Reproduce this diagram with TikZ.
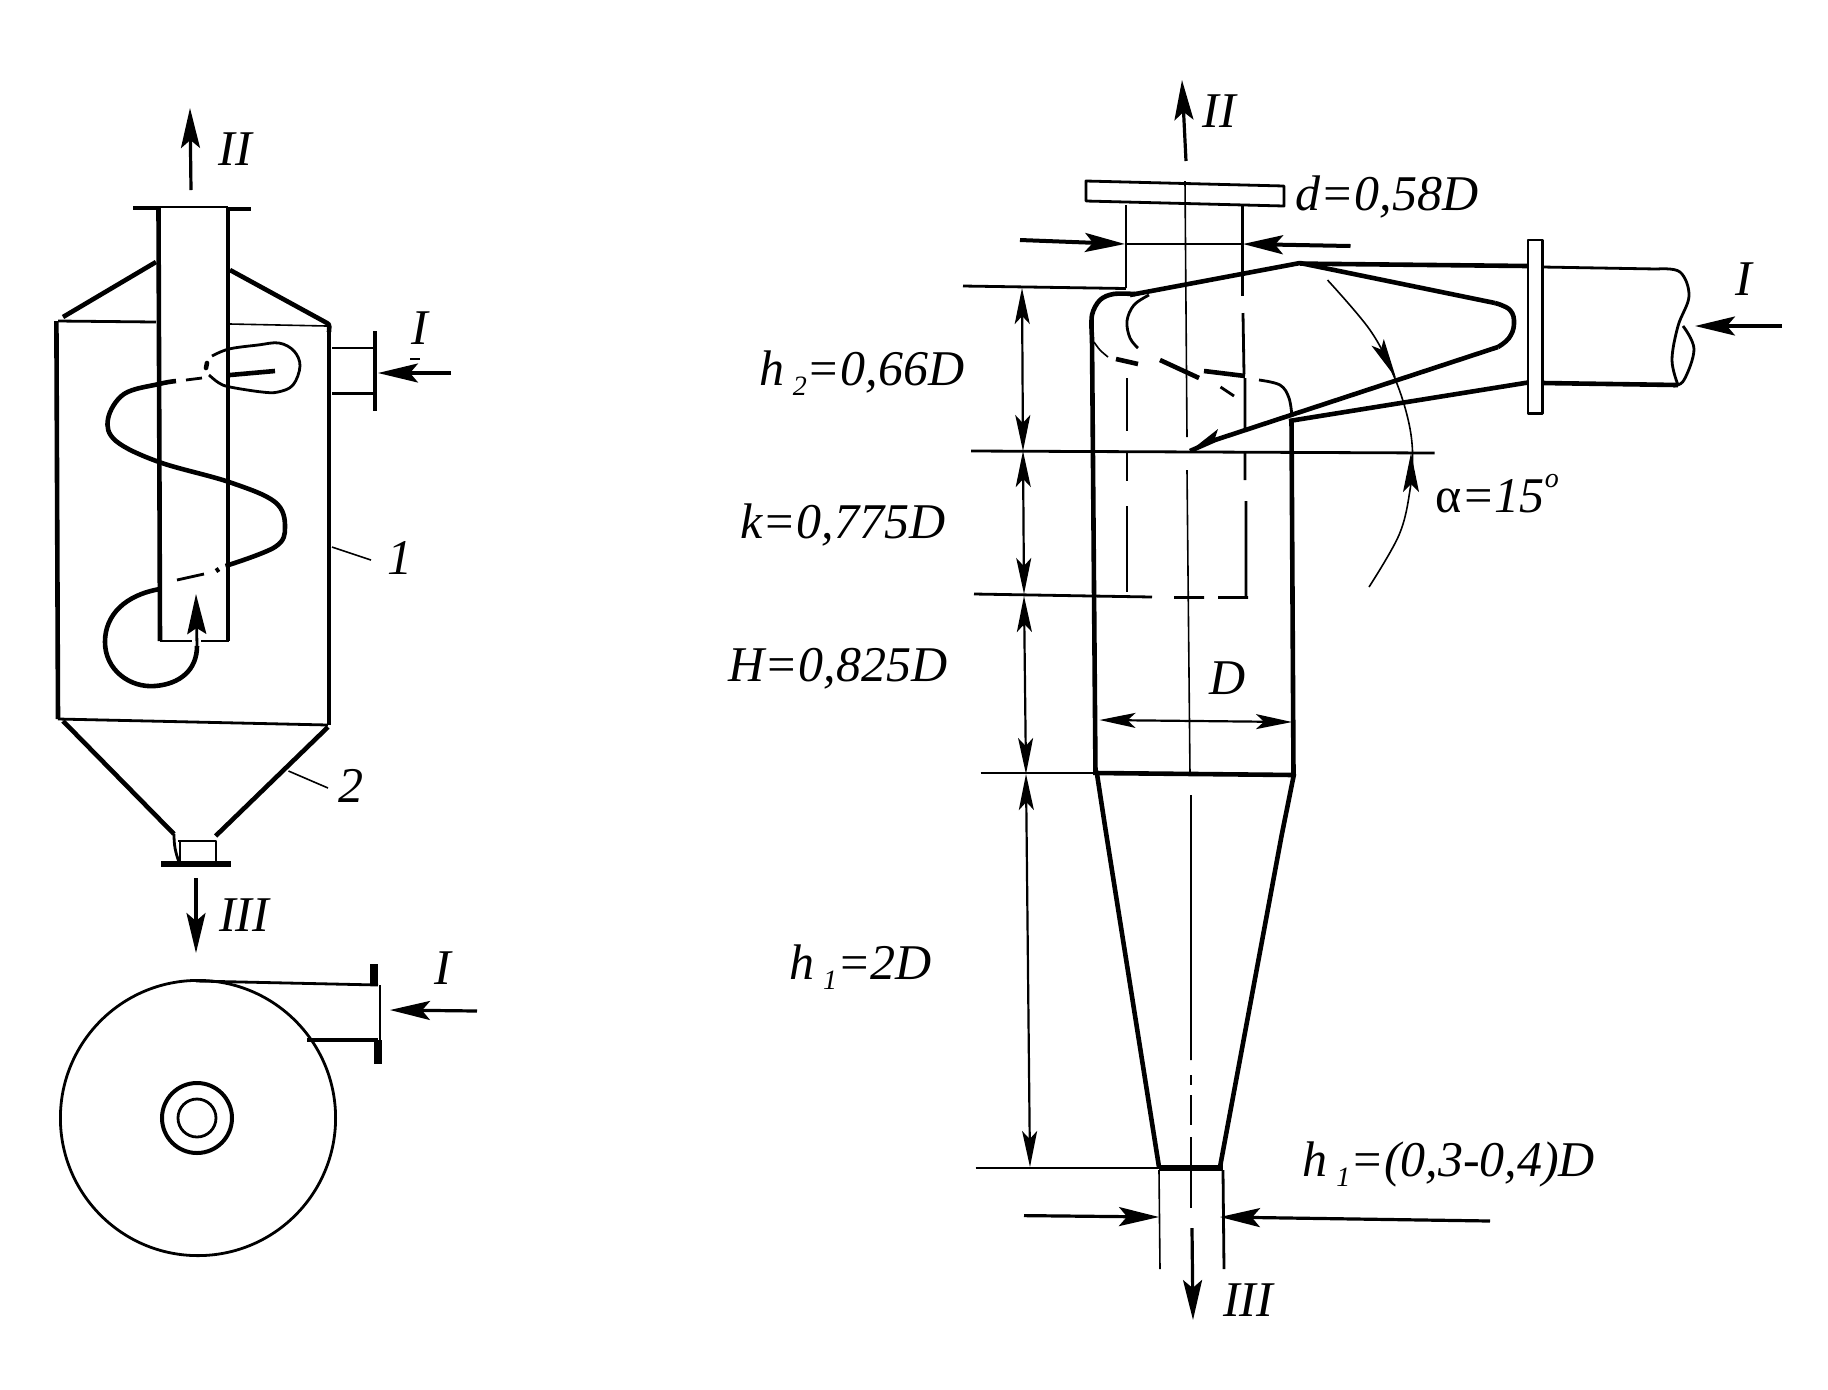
\documentclass[tikz,border=0pt]{standalone}
\usepackage{fontspec}
\usepackage{graphicx}
\setmainfont{Liberation Serif}
\usetikzlibrary{arrows.meta}
\newcommand{\sbs}[1]{\,\raisebox{-0.45ex}{\fontsize{14}{14}\selectfont #1}}
\tikzset{
  thickln/.style={line width=2.3pt,line join=round},
  midln/.style={line width=1.4pt,line join=round},
  thinln/.style={line width=.8pt,line join=round},
  flow/.style={line width=1.6pt,-{Stealth[length=20pt,width=9.5pt,inset=4pt]}},
  dimsn/.style={line width=1.1pt,{Stealth[length=18pt,width=7.5pt,inset=4pt]}-{Stealth[length=18pt,width=7.5pt,inset=4pt]}},
  lab/.style={font=\fontsize{25}{25}\selectfont\itshape,inner sep=0pt},
}
\begin{document}
\begin{tikzpicture}[x=.5pt,y=-.5pt]
\useasboundingbox (0,0) rectangle (1828,1389);
\fill[white] (0,0) rectangle (1828,1389);
% ---------- left vessel
\draw[flow] (191,190) -- (190,108);
\draw[thickln] (133,208) -- (158,208);
\draw[thinln] (158,207) -- (228,207);
\draw[thickln] (228,209) -- (251,209);
\draw[thickln] (158.5,207) -- (160,641);
\draw[thickln] (228,207) -- (228,641);
\draw[midln] (160,641) -- (192,641) (201,641) -- (229,641);
\draw[thickln] (63,317) -- (156,262);
\draw[thickln] (230,270) -- (327,323) to[out=-20,in=90] (329,332);
\draw[thickln] (56.4,321) -- (58,719);
\draw[thickln] (329,330) -- (329,725);
\draw[midln] (58,321) -- (156,322);
\draw[thinln] (230,324) -- (327,326);
\draw[thinln] (332,348) -- (373,348);
\draw[midln] (332,393.5) -- (373,393.5);
\draw[thickln] (375,331) -- (375,411);
\draw[flow] (451,373) -- (378,373);
\draw[thinln] (410,359) -- (420,359);
% swirl
\draw[midln] plot[smooth,tension=.6] coordinates {(212,356) (229,349) (258,345) (279,343) (294,351) (300,366) (293,385) (278,392) (262,392) (230,387) (219,383) (209,375)};
\draw[thickln,line cap=round] (206,368) -- (207,363);
\draw[thickln] (230,375) -- (275,371);
\draw[midln] (186,380) -- (202,378);
\draw[thickln] plot[smooth,tension=.6] coordinates {(176,381) (159,384) (124,394) (108,419) (116,441) (159,462) (229,482) (275,502) (285,527) (275,547) (225.5,566)};
\draw[thickln] (219,569) -- (216,571);
\draw[midln] (177,580) -- (204,574);
\draw[thickln] (160,589) .. controls (125,595) and (105,615) .. (105,642) .. controls (105,670) and (130,688) .. (155,686) .. controls (180,684) and (197,670) .. (197,646);
\draw[midln,-{Stealth[length=20pt,width=9.5pt,inset=3pt]}] (197,646) -- (196,594);
% cone
\draw[midln] (58,719) -- (328,725);
\draw[thickln] (63,721) -- (174,834);
\draw[thickln] (328,727) -- (215.6,836);
\draw[midln] (174,834) to[bend right=10] (179,862);
\draw[midln] (178,841) -- (216,841) -- (216,862);
\draw[midln] (180,841) -- (180,862);
\draw[line width=2.7pt] (161,864) -- (230.5,864);
\draw[flow] (196,878) -- (196,953);
\draw[thinln] (332,547) -- (371,560);
\draw[thinln] (288.5,771) -- (328,788);
% ---------- plan view
\draw[midln] (198,1118) circle[radius=137.6];
\draw[line width=2pt] (197,1118) circle[radius=35];
\draw[midln] (197,1118) circle[radius=19];
\draw[midln] (196,981) -- (378,985);
\draw[thickln] (307,1040) -- (378,1040);
\draw[midln] (380,985) -- (380,1040);
\draw[line width=4pt] (374,964) -- (374,985);
\draw[line width=4pt] (378,1040) -- (378,1064);
\draw[flow] (477,1011) -- (390,1010);
% ---------- right cyclone
\draw[flow] (1186,161) -- (1182,80);
\draw[midln] (1086,181) -- (1284,186) -- (1284,206) -- (1086,201) -- cycle;
\draw[midln] (1126,205) -- (1126,288);
\draw[midln] (1242.5,206) -- (1242.5,296);
% centre line
\draw[thinln] (1185,181) -- (1187,437) (1187,470) -- (1190,775) (1191,795) -- (1191,1060);
\draw[midln] (1191,1075) -- (1191,1085) (1191,1095) -- (1191,1125) (1191,1137) -- (1191,1208);
\draw[flow] (1192,1228) -- (1193,1320);
% d dim
\draw[flow,line width=2pt] (1020,240) -- (1125,244);
\draw[flow,line width=2pt] (1350.5,246) -- (1243,244);
\draw[thinln] (1125,244) -- (1243,244);
% inner pipe dashes
\draw[midln] (1127,378) -- (1127,431) (1127,453) -- (1127,481) (1127,506) -- (1127,592);
\draw[midln] (1243,313) -- (1244,374) (1245,378) -- (1245,431) (1245,453) -- (1245,480) (1246,501) -- (1246,597);
\draw[midln] (1092,596) -- (1152,597) (1174,597.5) -- (1204,597.5) (1218,597.5) -- (1248,597.5);
% extension lines
\draw[midln] (963,286) -- (1126,288.5);
\draw[midln] (971,451) -- (1434.5,453);
\draw[midln] (974,594) -- (1092,596);
\draw[midln] (980.6,773) -- (1095,773);
\draw[midln] (975.5,1168) -- (1159,1168);
% body
\draw[thickln] (1092,338) -- (1095.5,775);
\draw[thickln] (1291.5,419) -- (1293.5,775);
\draw[thickln] plot[smooth,tension=.55] coordinates {(1092,338) (1092,315) (1100,300) (1113.6,294) (1135,294)};
\draw[thickln] (1130,295) -- (1300,263) -- (1495,303);
\draw[thickln] plot[smooth,tension=.7] coordinates {(1495,303) (1510,310) (1514,324) (1509,338) (1498,347)};
\draw[thickln] (1498,347) -- (1215,440) -- (1190,451);
\fill (1190,451) -- (1218,429) -- (1215,438) -- (1224,437) -- cycle;
\draw[thickln] (1300,263.6) -- (1528,266);
\draw[midln] (1528,240) -- (1542.5,240) -- (1542.5,413.6) -- (1528,413.6) -- cycle;
\draw[midln] (1542.5,267) -- (1657,269);
\draw[midln] plot[smooth,tension=.6] coordinates {(1657,269) (1680,272) (1689,296) (1678,326) (1672,360) (1678,385)};
\draw[midln] plot[smooth,tension=.6] coordinates {(1683,326) (1694,349) (1684,380) (1673,386)};
\draw[thickln] (1678,385) -- (1542.5,383);
\draw[thickln] (1528,382.5) -- (1289,421);
% inner curve
\draw[midln] plot[smooth,tension=.6] coordinates {(1149,295) (1134,305) (1127,321) (1130,338) (1138,348)};
\draw[thinln] plot[smooth,tension=.6] coordinates {(1094,342) (1100,350) (1108,357)};
\draw[thickln] (1116,359) -- (1138,364);
\draw[thickln] (1160,360) -- (1199,378);
\draw[thickln] (1204,371) -- (1245,376);
\draw[midln] plot[smooth,tension=.6] coordinates {(1259,380) (1280,385) (1289,398) (1292,417)};
\draw[midln] (1220.5,387) -- (1234,396);
% angle
\draw[thinln] plot[smooth,tension=.6] coordinates {(1327.5,280) (1370,330) (1393,374) (1407,415) (1412.5,451) (1410,490) (1399,535) (1369,587)};
\fill (1396,378) -- (1383.8,339) -- (1381,349.5) -- (1371.4,345.6) -- cycle;
\fill (1411,453) -- (1403,492) -- (1411,484) -- (1419,492) -- cycle;
% vertical dimensions
\draw[dimsn] (1022,288) -- (1023,451);
\draw[dimsn] (1023,451) -- (1024,594);
\draw[dimsn] (1024,596) -- (1026,774);
\draw[dimsn] (1026,774) -- (1030,1167);
% bottom
\draw[line width=3pt] (1159,1168) -- (1223,1168);
\draw[thickln] (1095.5,773) -- (1294.4,775);
\draw[thickln] (1097,774) -- (1105.6,830) -- (1159,1167);
\draw[thickln] (1294,774) -- (1281.6,835.5) -- (1220,1167);
\draw[thinln] (1159,1170) -- (1160,1269);
\draw[midln] (1223,1170) -- (1224,1269);
\draw[flow] (1024,1215.6) -- (1159,1217);
\draw[flow] (1490,1221) -- (1220,1217);
\draw[dimsn] (1099.5,720) -- (1292,722);
\draw[flow] (1782,326) -- (1695,326);
% ---------- labels
\node[lab] (lII) at (235,149) {II};
\node[lab] (lIa) at (420,328) {I};
\node[lab] (l1) at (400,558) {1};
\node[lab] (l2) at (351,786) {2};
\node[lab] (lIII) at (244,915) {III};
\node[lab] (lIb) at (443,968) {I};
\node[lab] (rII) at (1219,111) {II};
\node[lab] (rd) at (1387,197) {d=0,58D};
\node[lab] (rI) at (1744,279) {I};
\node[lab] (ra) at (1497,494) {{\upshape α}=15\raisebox{1.1ex}{\fontsize{14}{14}\selectfont o}};
\node[lab] (rh2) at (862,373) {h\sbs{2}=0,66D};
\node[lab] (rk) at (843,525) {k=0,775D};
\node[lab] (rH) at (838,669) {H=0,825D};
\node[lab] (rD) at (1228,678) {D};
\node[lab] (rh1) at (861,967) {h\sbs{1}=2D};
\node[lab] (rh3) at (1449,1164) {h\sbs{1}=(0,3-0,4)D};
\node[lab] (rIII) at (1248,1300) {III};
\end{tikzpicture}
\end{document}
